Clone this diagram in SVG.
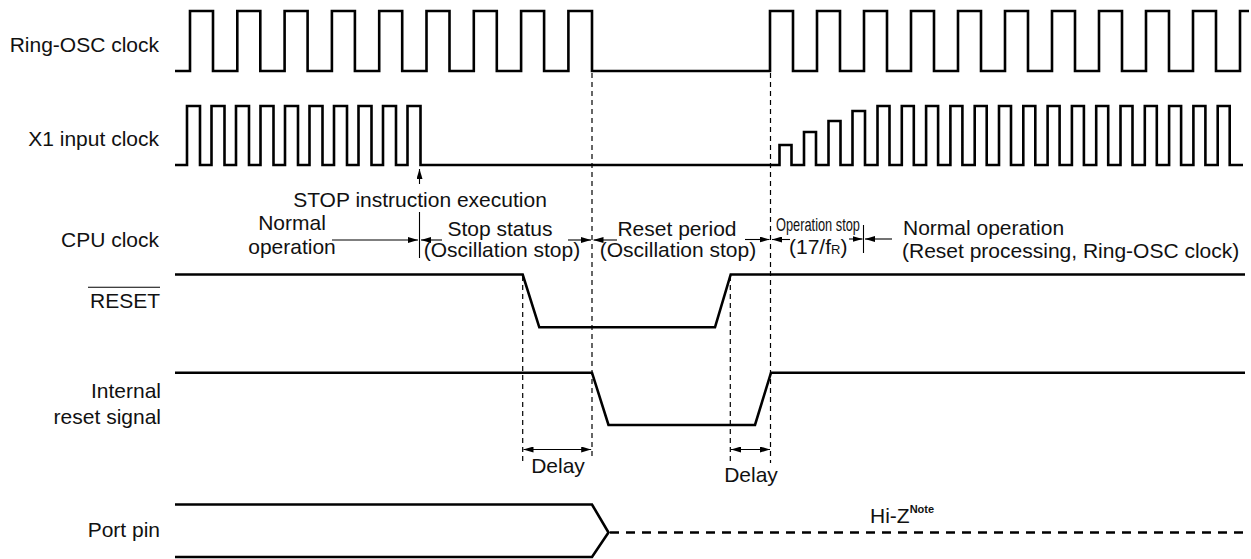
<svg xmlns="http://www.w3.org/2000/svg" width="1251" height="559" viewBox="0 0 1251 559">
<style>
text{font-family:"Liberation Sans",Arial,sans-serif;font-size:21px;fill:#111}
.lbl{text-anchor:end}
.mid{text-anchor:middle}
.wave{fill:none;stroke:#000;stroke-width:2.6;stroke-linejoin:miter;stroke-linecap:butt}
.dash{fill:none;stroke:#000;stroke-width:1.2;stroke-dasharray:5,4}
.thin{fill:none;stroke:#000;stroke-width:1.1}
.hiz{fill:none;stroke:#000;stroke-width:2.6;stroke-dasharray:9,7}
</style>
<defs>
<marker id="ah" viewBox="0 0 10 6" refX="10" refY="3" markerWidth="10" markerHeight="6" markerUnits="userSpaceOnUse" orient="auto-start-reverse">
<path d="M0,0 L10,3 L0,6 z" fill="#000"/>
</marker>
</defs>
<rect width="1251" height="559" fill="#fff"/>

<g id="ring-osc">
<text class="lbl" x="159" y="52.3">Ring-OSC clock</text>
<path class="wave" d="M175,71 H190 V11 H213 V71 H237.3 V11 H260.3 V71 H284.6 V11 H307.6 V71 H331.9 V11 H354.9 V71 H379.2 V11 H402.2 V71 H426.5 V11 H449.5 V71 H473.8 V11 H496.8 V71 H521.1 V11 H544.1 V71 H568.4 V11 H592 V71 H770 V11 H793 V71 H817 V11 H840 V71 H864 V11 H887 V71 H911 V11 H934 V71 H958 V11 H981 V71 H1005 V11 H1028 V71 H1052 V11 H1075 V71 H1099 V11 H1122 V71 H1146 V11 H1169 V71 H1193 V11 H1216 V71 H1240 V11 H1249"/>
</g>

<g id="x1-clock">
<text class="lbl" x="159" y="145.7">X1 input clock</text>
<path class="wave" d="M175,165 H187 V106 H200 V165 H211.5 V106 H224.5 V165 H236 V106 H249 V165 H260.5 V106 H273.5 V165 H285 V106 H298 V165 H309.5 V106 H322.5 V165 H334 V106 H347 V165 H358.5 V106 H371.5 V165 H383 V106 H396 V165 H407.5 V106 H420.5 V165 H779.5 V145 H791.5 V165 H804 V132 H816 V165 H828.5 V121 H840.5 V165 H852.5 V111 H865 V165 H877.5 V106 H889.5 V165 H901.8 V106 H913.8 V165 H926.1 V106 H938.1 V165 H950.4 V106 H962.4 V165 H974.7 V106 H986.7 V165 H999 V106 H1011 V165 H1023.3 V106 H1035.3 V165 H1047.6 V106 H1059.6 V165 H1071.9 V106 H1083.9 V165 H1096.2 V106 H1108.2 V165 H1120.5 V106 H1132.5 V165 H1144.8 V106 H1156.8 V165 H1169.1 V106 H1181.1 V165 H1193.4 V106 H1205.4 V165 H1217.7 V106 H1229.7 V165 H1243"/>
</g>

<g id="cpu-clock">
<text class="lbl" x="159" y="246.7">CPU clock</text>
<text class="mid" x="420" y="206.7">STOP instruction execution</text>
<text class="mid" x="292" y="230">Normal</text>
<text class="mid" x="292" y="254">operation</text>
<text class="mid" x="500" y="236">Stop status</text>
<text class="mid" x="502" y="257">(Oscillation stop)</text>
<text class="mid" x="677" y="236">Reset period</text>
<text class="mid" x="678" y="257">(Oscillation stop)</text>
<text x="776" y="230.5" style="font-size:19px" textLength="84" lengthAdjust="spacingAndGlyphs">Operation stop</text>
<text x="789" y="253.5">(17/f<tspan style="font-size:13px">R</tspan>)</text>
<text x="903" y="235">Normal operation</text>
<text x="902" y="257.5">(Reset processing, Ring-OSC clock)</text>
</g>

<g id="reset">
<text class="lbl" x="160" y="308.3">RESET</text>
<line class="thin" x1="88" y1="287.3" x2="160" y2="287.3"/>
<path class="wave" d="M175,274.5 H522.7 L539.3,327.3 H715 L730.7,274.5 H1245"/>
</g>

<g id="internal-reset">
<text class="lbl" x="161" y="398.3">Internal</text>
<text class="lbl" x="161" y="424.3">reset signal</text>
<path class="wave" d="M175,372.7 H592 L608.5,425 H755 L771,372.7 H1245"/>
</g>

<g id="port-pin">
<text class="lbl" x="160" y="537">Port pin</text>
<path class="wave" d="M175,504.5 H592 L608.5,532.5 L592,557 H175"/>
<path class="hiz" d="M610,532.5 H1245"/>
<text x="870" y="523.3">Hi-Z<tspan dy="-10" style="font-size:11px;font-weight:bold">Note</tspan></text>
</g>

<g id="connectors">
<line class="dash" x1="592" y1="73" x2="592" y2="460"/>
<line class="dash" x1="770.5" y1="73" x2="770.5" y2="463"/>
<line class="dash" x1="522.7" y1="276" x2="522.7" y2="462"/>
<line class="dash" x1="730.3" y1="276" x2="730.3" y2="463"/>
<line class="thin" x1="419.5" y1="184" x2="419.5" y2="169" marker-end="url(#ah)"/>
<line class="thin" x1="419.5" y1="212" x2="419.5" y2="258"/>
<line class="thin" x1="863.5" y1="225" x2="863.5" y2="253"/>
<line class="thin" x1="332" y1="240" x2="418" y2="240" marker-end="url(#ah)"/>
<line class="thin" x1="442" y1="240" x2="421" y2="240" marker-end="url(#ah)"/>
<line class="thin" x1="568" y1="240" x2="591" y2="240" marker-end="url(#ah)"/>
<line class="thin" x1="617" y1="240" x2="593.5" y2="240" marker-end="url(#ah)"/>
<line class="thin" x1="745" y1="239.5" x2="769.5" y2="239.5" marker-end="url(#ah)"/>
<line class="thin" x1="790" y1="239.5" x2="772" y2="239.5" marker-end="url(#ah)"/>
<line class="thin" x1="849" y1="239" x2="862.5" y2="239" marker-end="url(#ah)"/>
<line class="thin" x1="892" y1="239" x2="865" y2="239" marker-end="url(#ah)"/>
<line class="thin" x1="523.5" y1="449.5" x2="591.2" y2="449.5" marker-start="url(#ah)" marker-end="url(#ah)"/>
<line class="thin" x1="731" y1="449.5" x2="770" y2="449.5" marker-start="url(#ah)" marker-end="url(#ah)"/>
<text class="mid" x="558" y="472.7">Delay</text>
<text class="mid" x="751" y="482.3">Delay</text>
</g>
</svg>
